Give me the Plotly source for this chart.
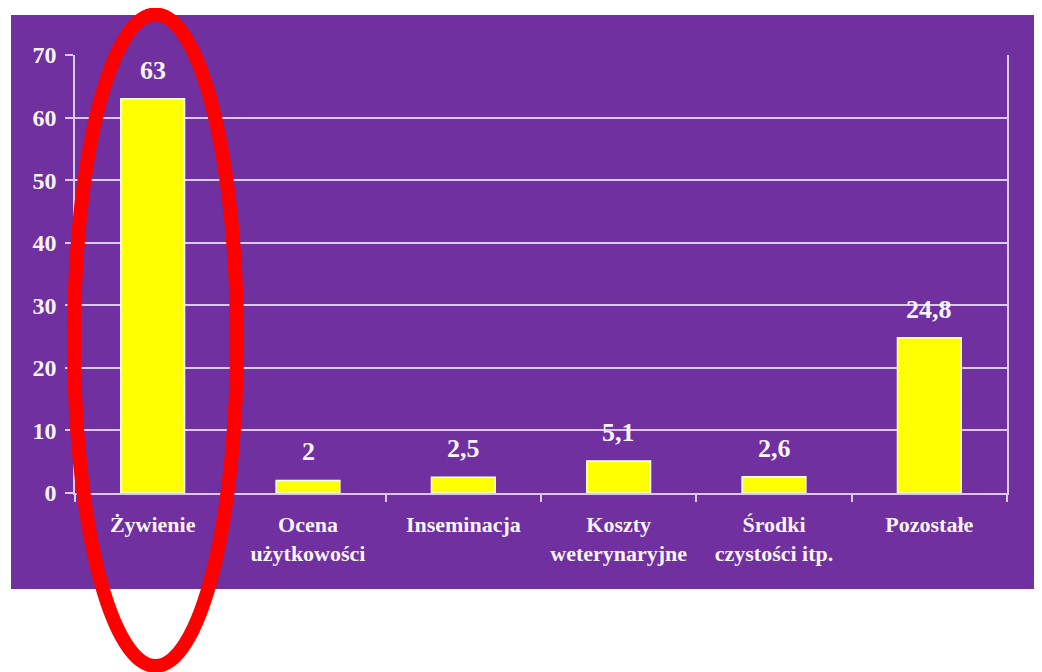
import plotly.graph_objects as go

categories = ["Żywienie", "Ocena<br>użytkowości", "Inseminacja", "Koszty<br>weterynaryjne",
              "Środki<br>czystości itp.", "Pozostałe"]
values = [63, 2, 2.5, 5.1, 2.6, 24.8]
value_labels = ["63", "2", "2,5", "5,1", "2,6", "24,8"]
y_ticks = [0, 10, 20, 30, 40, 50, 60, 70]

PURPLE = "#7030A0"
TXT = "#F6F3F9"
GRID = "#D9CBE6"
FONT = "Liberation Serif"

# page offset of the figure (default body margin)
OFF = 8
W, H = 1042, 672
L, R, T, B = 75 - OFF, 1042 - (1007 - OFF), 55 - OFF, 672 - (493 - OFF)
pw, ph = W - L - R, H - T - B

def px_x(p):
    return (p - OFF - L) / pw

def px_y(p):
    return (H - B - (p - OFF)) / ph

fig = go.Figure()
fig.add_trace(go.Bar(
    x=categories, y=values, width=0.41,
    marker=dict(color="#FFFF00", line=dict(color="#FFFFFF", width=1.5)),
    hoverinfo="skip",
))

for c, v, t in zip(categories, values, value_labels):
    fig.add_annotation(x=c, y=v, text="<b>" + t + "</b>", showarrow=False,
                       yanchor="bottom", yshift=12,
                       font=dict(family=FONT, size=26, color=TXT))

fig.update_layout(
    width=W, height=H,
    margin=dict(l=L, r=R, t=T, b=B),
    paper_bgcolor="white",
    plot_bgcolor=PURPLE,
    showlegend=False,
    font=dict(family=FONT, color=TXT),
    xaxis=dict(
        type="category", tickson="boundaries", ticks="outside", ticklen=7,
        tickcolor=GRID, tickwidth=1.5,
        showline=True, linecolor=GRID, linewidth=1.5, mirror=False,
        showgrid=False,
        tickfont=dict(family=FONT, size=22, color=TXT),
        ticklabelstandoff=11,
        tickprefix="<b>", ticksuffix="</b>",
    ),
    yaxis=dict(
        range=[0, 70], tickmode="array", tickvals=y_ticks,
        ticktext=["<b>%d</b>" % v for v in y_ticks],
        ticks="outside", ticklen=8,
        tickcolor=GRID, tickwidth=1.5,
        showline=True, linecolor=GRID, linewidth=1.5, mirror=True,
        showgrid=True, gridcolor=GRID, gridwidth=1.5,
        zeroline=False,
        tickfont=dict(family=FONT, size=24, color=TXT),
        ticklabelstandoff=4,
    ),
    shapes=[
        dict(type="rect", xref="paper", yref="paper", layer="below",
             x0=px_x(11), x1=px_x(1050), y0=px_y(589), y1=px_y(15),
             fillcolor=PURPLE, line=dict(width=0)),
        dict(type="circle", xref="paper", yref="paper", layer="above",
             x0=px_x(74), x1=px_x(237), y0=px_y(666), y1=px_y(14.5),
             line=dict(color="#FF0000", width=14)),
    ],
)

fig.write_html("out.html")
